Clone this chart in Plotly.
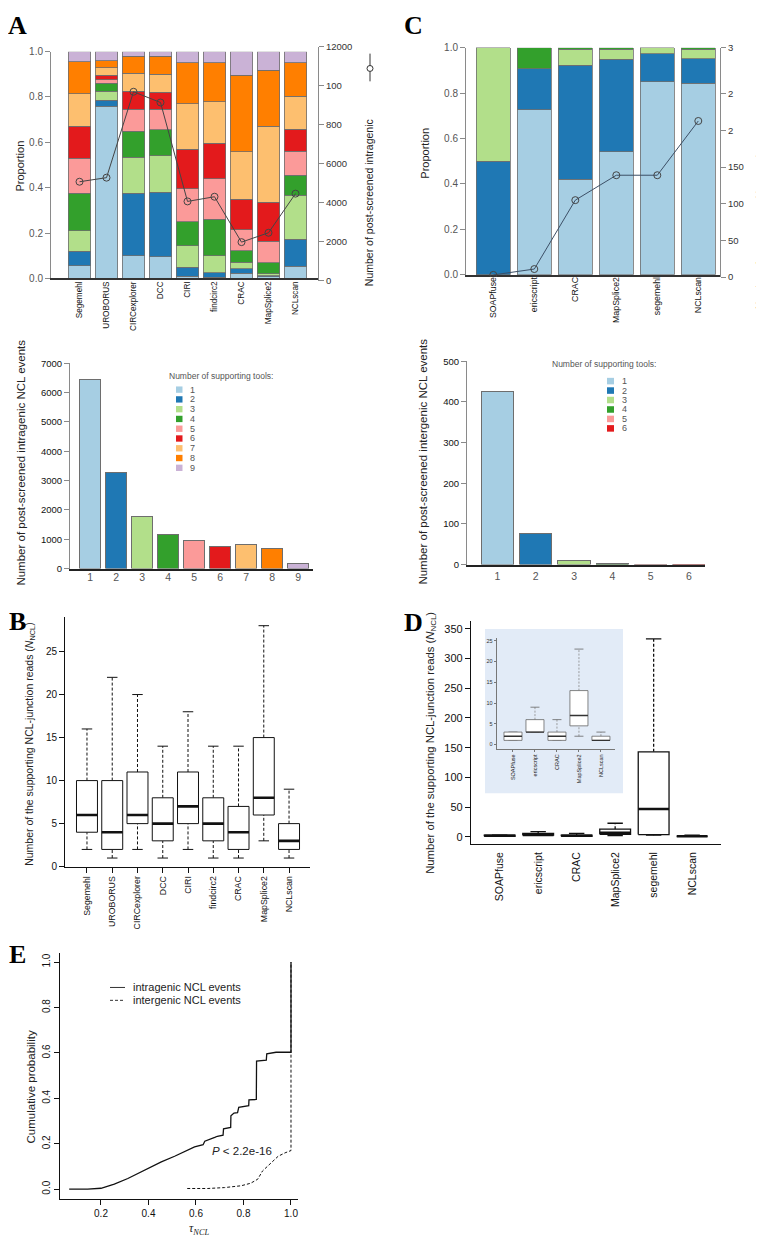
import plotly.graph_objects as go

W, H = 764, 1237
FONT = "Liberation Sans, Arial, sans-serif"
SERIF = "Liberation Serif, Times New Roman, serif"
PAIRED = ['#a6cee3', '#1f78b4', '#b2df8a', '#33a02c', '#fb9a99',
          '#e31a1c', '#fdbf6f', '#ff7f00', '#cab2d6']


def PX(p):
    return p / W


def PY(p):
    return 1 - p / H


def xdom(a, b):
    return [PX(a), PX(b)]


def ydom(top, bottom):
    return [PY(bottom), PY(top)]


# ------------------------------------------------------------------ data
# Panel A (top): proportion of events by number of supporting tools (1..9)
tools_A = ["Segemehl", "UROBORUS", "CIRCexplorer", "DCC", "CIRI",
           "findcirc2", "CRAC", "MapSplice2", "NCLscan"]
levels_A = ["1", "2", "3", "4", "5", "6", "7", "8", "9"]
prop_segemehl = [0.055, 0.065, 0.09, 0.165, 0.155, 0.14, 0.145, 0.14, 0.045]
prop_uroborus = [0.76, 0.025, 0.04, 0.035, 0.015, 0.02, 0.035, 0.03, 0.04]
prop_circexplorer = [0.10, 0.275, 0.16, 0.115, 0.095, 0.08, 0.08, 0.075, 0.02]
prop_dcc = [0.095, 0.285, 0.16, 0.115, 0.09, 0.075, 0.08, 0.08, 0.02]
prop_ciri = [0.01, 0.04, 0.095, 0.105, 0.145, 0.175, 0.20, 0.18, 0.05]
prop_findcirc2 = [0.005, 0.02, 0.075, 0.16, 0.18, 0.155, 0.185, 0.17, 0.05]
prop_crac = [0.022, 0.02, 0.03, 0.05, 0.092, 0.135, 0.21, 0.336, 0.105]
prop_mapsplice2 = [0.007, 0.005, 0.008, 0.048, 0.095, 0.172, 0.337, 0.245, 0.083]
prop_nclscan = [0.054, 0.119, 0.194, 0.087, 0.106, 0.098, 0.145, 0.149, 0.048]
props_A = [prop_segemehl, prop_uroborus, prop_circexplorer, prop_dcc, prop_ciri,
           prop_findcirc2, prop_crac, prop_mapsplice2, prop_nclscan]
count_intragenic = [5080, 5290, 9700, 9150, 4070, 4310, 1980, 2460, 4470]
right_ticks_A = [0, 2000, 4000, 6000, 8000, 10000, 12000]
right_labels_A = ["0", "2000", "4000", "6000", "800", "100", "12000"]

# Panel C (top)
tools_C = ["SOAPfuse", "ericscript", "CRAC", "MapSplice2", "segemehl", "NCLscan"]
levels_C = ["1", "2", "3", "4"]
propC_soapfuse = [0.0, 0.5, 0.5, 0.0]
propC_ericscript = [0.727, 0.18, 0.0, 0.093]
propC_crac = [0.42, 0.503, 0.07, 0.007]
propC_mapsplice2 = [0.541, 0.408, 0.044, 0.007]
propC_segemehl = [0.85, 0.124, 0.026, 0.0]
propC_nclscan = [0.843, 0.109, 0.041, 0.007]
props_C = [propC_soapfuse, propC_ericscript, propC_crac, propC_mapsplice2,
           propC_segemehl, propC_nclscan]
count_intergenic = [3, 11, 105, 139, 139, 213]
right_ticks_C = [0, 50, 100, 150, 200, 250, 313]
right_labels_C = ["0", "50", "100", "150", "2", "2", "3"]

# Panel A (bottom) and C (bottom)
support_A = ["1", "2", "3", "4", "5", "6", "7", "8", "9"]
events_intragenic = [6430, 3270, 1780, 1170, 940, 750, 810, 700, 170]
support_C = ["1", "2", "3", "4", "5", "6"]
events_intergenic = [425, 77, 10, 2, 0.5, 0.5]

# Panel B boxplots (whisker low, Q1, median, Q3, whisker high)
b_low = [2, 1, 2, 1, 2, 1, 1, 3, 1]
b_q1 = [4, 2, 5, 3, 5, 3, 2, 6, 2]
b_med = [6, 4, 6, 5, 7, 5, 4, 8, 3]
b_q3 = [10, 10, 11, 8, 11, 8, 7, 15, 5]
b_high = [16, 22, 20, 14, 18, 14, 14, 28, 9]

# Panel D boxplots
d_low = [1, 3, 1, 2, 3, 1]
d_q1 = [1, 3, 1, 4.5, 4, 1]
d_med = [2, 3, 2, 7, 47, 1]
d_q3 = [3, 6, 3, 13, 143, 2]
d_high = [3, 9, 6, 23, 333, 3]
# inset (without segemehl)
tools_inset = ["SOAPfuse", "ericscript", "CRAC", "MapSplice2", "NCLscan"]
i_low = [1, 3, 1, 2, 1]
i_q1 = [1, 3, 1, 4.5, 1]
i_med = [2, 3, 2, 7, 1]
i_q3 = [3, 6, 3, 13, 2]
i_high = [3, 9, 6, 23, 3]

# Panel E cumulative distributions
tau_intra = [0.066, 0.144, 0.2, 0.256, 0.313, 0.369, 0.397, 0.454, 0.51, 0.552,
             0.594, 0.63, 0.637, 0.679, 0.69, 0.714, 0.716, 0.746, 0.747, 0.76,
             0.775, 0.78, 0.822, 0.823, 0.854, 0.855, 0.896, 0.898, 0.937, 1.0, 1.0]
cdf_intra = [0.0, 0.0, 0.004, 0.022, 0.047, 0.076, 0.09, 0.12, 0.145, 0.167,
             0.186, 0.196, 0.211, 0.228, 0.233, 0.238, 0.266, 0.272, 0.323, 0.335,
             0.337, 0.36, 0.368, 0.393, 0.395, 0.564, 0.568, 0.596, 0.603, 0.603, 1.0]
tau_inter = [0.563, 0.65, 0.72, 0.79, 0.83, 0.86, 0.88, 0.918, 0.946, 0.975, 1.0, 1.0]
cdf_inter = [0.003, 0.003, 0.007, 0.015, 0.026, 0.044, 0.08, 0.116, 0.145, 0.16, 0.17, 1.0]

# ------------------------------------------------------------------ figure
fig = go.Figure()
layout = {}
annotations = []
shapes = []


def ax(dom, rng, **kw):
    d = dict(domain=dom, range=rng, showgrid=False, zeroline=False,
             fixedrange=True, ticks="", showline=False)
    d.update(kw)
    return d


def txt(x, y, text, size=11, color="#222", angle=0, xanchor="center",
        yanchor="middle", family=FONT):
    annotations.append(dict(x=PX(x), y=PY(y), xref="paper", yref="paper",
                            text=text, showarrow=False, textangle=angle,
                            xanchor=xanchor, yanchor=yanchor,
                            font=dict(family=family, size=size, color=color)))


GRAY_AX = "#8a8a8a"
left_axis = dict(showline=True, linecolor=GRAY_AX, linewidth=1, ticks="outside",
                 ticklen=5, tickcolor=GRAY_AX, tickwidth=1)

# ---- Panel A top: stacked proportions + line
for j, lev in enumerate(levels_A):
    fig.add_trace(go.Bar(x=list(range(len(tools_A))), y=[p[j] for p in props_A],
                         width=0.83, marker=dict(color=PAIRED[j],
                         line=dict(color="#6e6e6e", width=0.8)),
                         xaxis="x", yaxis="y", showlegend=False, name=lev))
fig.add_trace(go.Scatter(x=list(range(len(tools_A))), y=count_intragenic,
                         mode="lines+markers", xaxis="x2", yaxis="y2",
                         line=dict(color="#444", width=1),
                         marker=dict(symbol="circle-open", size=7,
                                     color="#444", line=dict(width=1)),
                         showlegend=False))
layout["xaxis"] = ax(xdom(43, 310), [-1.056, 8.833], anchor="y",
                     tickmode="array", tickvals=list(range(9)), ticktext=tools_A,
                     tickangle=-90, tickfont=dict(family=FONT, size=8.2, color="#111"),
                     showline=True, linecolor="#333", linewidth=1.5, ticklabelstandoff=-2)
layout["yaxis"] = ax(ydom(38, 267), [0, 1], anchor="x", tickmode="array",
                     tickvals=[0, 0.2, 0.4, 0.6, 0.8, 1.0],
                     ticktext=["0.0", "0.2", "0.4", "0.6", "0.8", "1.0"],
                     tickfont=dict(family=FONT, size=10, color="#555"), **left_axis)
layout["xaxis2"] = ax(xdom(43, 310), [-1.056, 8.833], anchor="y2", visible=False)
layout["yaxis2"] = ax(ydom(33.3, 269.3), [0, 12000], anchor="free", position=PX(310),
                      side="right", tickmode="array", tickvals=right_ticks_A,
                      ticktext=right_labels_A,
                      tickfont=dict(family=FONT, size=9.5, color="#333"), **left_axis)
txt(12, 154, "Proportion", size=11, angle=-90)
txt(361, 191, "Number of post-screened intragenic", size=10.5, angle=-90)
shapes.append(dict(type="line", xref="paper", yref="paper", x0=PX(362), x1=PX(362),
                   y0=PY(40), y1=PY(68), line=dict(color="#333", width=1)))
shapes.append(dict(type="circle", xref="paper", yref="paper", x0=PX(359), x1=PX(365),
                   y0=PY(58), y1=PY(52), fillcolor="white", line=dict(color="#333", width=1)))

# ---- Panel C top
for j, lev in enumerate(levels_C):
    fig.add_trace(go.Bar(x=list(range(len(tools_C))), y=[p[j] for p in props_C],
                         width=0.83, marker=dict(color=PAIRED[j],
                         line=dict(color="#6e6e6e", width=0.8)),
                         xaxis="x3", yaxis="y3", showlegend=False, name=lev))
fig.add_trace(go.Scatter(x=list(range(len(tools_C))), y=count_intergenic,
                         mode="lines+markers", xaxis="x4", yaxis="y4",
                         line=dict(color="#3c4f66", width=1),
                         marker=dict(symbol="circle-open", size=7,
                                     color="#444", line=dict(width=1)),
                         showlegend=False))
layout["xaxis3"] = ax(xdom(458, 712), [-0.666, 5.529], anchor="y3",
                      tickmode="array", tickvals=list(range(6)), ticktext=tools_C,
                      tickangle=-90, tickfont=dict(family=FONT, size=8.8, color="#111"),
                      showline=True, linecolor="#333", linewidth=1.5, ticklabelstandoff=-3)
layout["yaxis3"] = ax(ydom(34, 263.3), [0, 1], anchor="x3", tickmode="array",
                      tickvals=[0, 0.2, 0.4, 0.6, 0.8, 1.0],
                      ticktext=["0.0", "0.2", "0.4", "0.6", "0.8", "1.0"],
                      tickfont=dict(family=FONT, size=10, color="#555"), **left_axis)
layout["xaxis4"] = ax(xdom(458, 712), [-0.666, 5.529], anchor="y4", visible=False)
layout["yaxis4"] = ax(ydom(34, 265.7), [0, 313], anchor="free", position=PX(712),
                      side="right", tickmode="array", tickvals=right_ticks_C,
                      ticktext=right_labels_C,
                      tickfont=dict(family=FONT, size=9.5, color="#333"), **left_axis)
txt(417, 140, "Proportion", size=11, angle=-90)
txt(753, 218, "Number of post-screened intergenic", size=10, angle=-90)
shapes.append(dict(type="line", xref="paper", yref="paper", x0=PX(755), x1=PX(755),
                   y0=PY(40), y1=PY(68), line=dict(color="#333", width=1)))
shapes.append(dict(type="circle", xref="paper", yref="paper", x0=PX(752), x1=PX(758),
                   y0=PY(53), y1=PY(47), fillcolor="white", line=dict(color="#333", width=1)))

# ---- Panel A bottom
fig.add_trace(go.Bar(x=list(range(len(support_A))), y=events_intragenic, width=0.81,
                     marker=dict(color=PAIRED[:9], line=dict(color="#6e6e6e", width=1)),
                     xaxis="x5", yaxis="y5", showlegend=False))
layout["xaxis5"] = ax(xdom(62, 305), [-0.777, 8.57], anchor="y5", tickmode="array",
                      tickvals=list(range(9)), ticktext=support_A,
                      tickfont=dict(family=FONT, size=10.5, color="#555"),
                      showline=True, linecolor="#222", linewidth=1.5, ticklabelstandoff=-2)
layout["yaxis5"] = ax(ydom(352.7, 560), [0, 7000], anchor="x5", tickmode="array",
                      tickvals=[0, 1000, 2000, 3000, 4000, 5000, 6000, 7000],
                      tickfont=dict(family=FONT, size=9.5, color="#111"), **left_axis)
txt(13, 453, "Number of post-screened intragenic NCL events", size=11.5, angle=-90)
txt(213, 366, "Number of supporting tools:", size=8.5, color="#555")
for i, lev in enumerate(support_A):
    yc = 379.3 + 9.87 * i
    shapes.append(dict(type="rect", xref="paper", yref="paper", x0=PX(168), x1=PX(174.5),
                       y0=PY(yc + 3.2), y1=PY(yc - 3.2), fillcolor=PAIRED[i],
                       line=dict(width=0)))
    txt(180, yc, lev, size=9, color="#555", xanchor="left")

# ---- Panel C bottom
fig.add_trace(go.Bar(x=list(range(len(support_C))), y=events_intergenic, width=0.84,
                     marker=dict(color=PAIRED[:6], line=dict(color="#6e6e6e", width=1)),
                     xaxis="x6", yaxis="y6", showlegend=False))
layout["xaxis6"] = ax(xdom(459, 697), [-0.796, 5.42], anchor="y6", tickmode="array",
                      tickvals=list(range(6)), ticktext=support_C,
                      tickfont=dict(family=FONT, size=10.5, color="#555"),
                      showline=True, linecolor="#222", linewidth=1.5, ticklabelstandoff=1)
layout["yaxis6"] = ax(ydom(350.7, 556), [0, 500], anchor="x6", tickmode="array",
                      tickvals=[0, 100, 200, 300, 400, 500],
                      tickfont=dict(family=FONT, size=9.5, color="#111"), **left_axis)
txt(415, 452, "Number of post-screened intergenic NCL events", size=11.5, angle=-90)
txt(595.5, 353, "Number of supporting tools:", size=8.5, color="#555")
for i, lev in enumerate(support_C):
    yc = 370.7 + 9.55 * i
    shapes.append(dict(type="rect", xref="paper", yref="paper", x0=PX(599), x1=PX(606),
                       y0=PY(yc + 3.3), y1=PY(yc - 3.3), fillcolor=PAIRED[i],
                       line=dict(width=0)))
    txt(612, yc, lev, size=9, color="#555", xanchor="left")


# ---- boxplot helper
def add_boxes(low, q1, med, q3, high, width, xa, ya, lw=1.0, mlw=2.5, color="#111",
              mcolor="#111", wcolor="#111", dash="3px,2px", cap=0.25):
    xw, yw, xc, yc, xb, yb, xm, ym = [], [], [], [], [], [], [], []
    h = width / 2
    c = width * cap
    for i in range(len(med)):
        xw += [i, i, None, i, i, None]
        yw += [q3[i], high[i], None, low[i], q1[i], None]
        xc += [i - c, i + c, None, i - c, i + c, None]
        yc += [high[i], high[i], None, low[i], low[i], None]
        xb += [i - h, i + h, i + h, i - h, i - h, None]
        yb += [q1[i], q1[i], q3[i], q3[i], q1[i], None]
        xm += [i - h, i + h, None]
        ym += [med[i], med[i], None]
    common = dict(xaxis=xa, yaxis=ya, showlegend=False, mode="lines", hoverinfo="skip")
    fig.add_trace(go.Scatter(x=xw, y=yw, line=dict(color=wcolor, width=lw, dash=dash), **common))
    fig.add_trace(go.Scatter(x=xc, y=yc, line=dict(color=color, width=lw), **common))
    fig.add_trace(go.Scatter(x=xb, y=yb, fill="toself", fillcolor="white",
                             line=dict(color=color, width=lw), **common))
    fig.add_trace(go.Scatter(x=xm, y=ym, line=dict(color=mcolor, width=mlw), **common))


# ---- Panel B
add_boxes(b_low, b_q1, b_med, b_q3, b_high, 0.83, "x7", "y7", lw=1.0, mlw=2.6)
black_axis = dict(showline=True, linecolor="#111", linewidth=1, ticks="outside",
                  ticklen=5, tickcolor="#111", tickwidth=1)
layout["xaxis7"] = ax(xdom(57, 302), [-0.87, 8.83], anchor="y7", tickmode="array",
                      tickvals=list(range(9)), ticktext=tools_A, tickangle=-90,
                      tickfont=dict(family=FONT, size=8.8, color="#111"), **black_axis)
layout["yaxis7"] = ax(ydom(609, 861), [0, 29], anchor="x7", tickmode="array",
                      tickvals=[0, 5, 10, 15, 20, 25],
                      tickfont=dict(family=FONT, size=10, color="#111"), **black_axis)
txt(22, 737, "Number of the supporting NCL-junction reads (<i>N</i><sub>NCL</sub>)",
    size=10.5, angle=-90)

# ---- Panel D
shapes.append(dict(type="rect", xref="paper", yref="paper", x0=PX(477), x1=PX(615),
                   y0=PY(787), y1=PY(621), fillcolor="#e2ebf7", line=dict(width=0),
                   layer="below"))
add_boxes(d_low, d_q1, d_med, d_q3, d_high, 0.8, "x8", "y8", lw=1.3, mlw=2.4)
layout["xaxis8"] = ax(xdom(463, 713), [-0.745, 5.75], anchor="y8", tickmode="array",
                      tickvals=list(range(6)), ticktext=tools_C,
                      tickangle=-90, tickfont=dict(family=FONT, size=10.5, color="#111"),
                      showline=True, linecolor="#111", linewidth=1.2, ticklabelstandoff=3)
layout["yaxis8"] = ax(ydom(613, 838), [-11.7, 363], anchor="x8", tickmode="array",
                      tickvals=[0, 50, 100, 150, 200, 250, 300, 350],
                      tickfont=dict(family=FONT, size=11, color="#111"),
                      showline=True, linecolor="#111", linewidth=1.2, ticks="outside",
                      ticklen=5, tickcolor="#111")
txt(423, 736, "Number of the supporting NCL-junction reads (<i>N</i><sub>NCL</sub>)",
    size=11.3, angle=-90)

# inset
add_boxes(i_low, i_q1, i_med, i_q3, i_high, 0.82, "x9", "y9", lw=0.8, mlw=1.4,
          color="#666", mcolor="#333", wcolor="#888", dash="2px,1.5px")
inset_axis = dict(showline=True, linecolor="#777", linewidth=0.8, ticks="outside",
                  ticklen=2.5, tickcolor="#777", tickwidth=0.8)
layout["xaxis9"] = ax(xdom(489, 607), [-0.727, 4.64], anchor="y9", tickmode="array",
                      tickvals=list(range(5)), ticktext=tools_inset, tickangle=-90,
                      tickfont=dict(family=FONT, size=5.5, color="#222"), **inset_axis)
layout["yaxis9"] = ax(ydom(630, 742), [-1.03, 25.7], anchor="x9", tickmode="array",
                      tickvals=[0, 5, 10, 15, 20, 25],
                      tickfont=dict(family=FONT, size=5.5, color="#333"), **inset_axis)

# ---- Panel E
fig.add_trace(go.Scatter(x=tau_inter, y=cdf_inter, mode="lines", xaxis="x10", yaxis="y10",
                         line=dict(color="#111", width=1, dash="3px,2px"),
                         showlegend=False))
fig.add_trace(go.Scatter(x=tau_intra, y=cdf_intra, mode="lines", xaxis="x10", yaxis="y10",
                         line=dict(color="#111", width=1.3), showlegend=False))
layout["xaxis10"] = ax(xdom(52, 290), [0.0274, 1.0295], anchor="y10", tickmode="array",
                       tickvals=[0.2, 0.4, 0.6, 0.8, 1.0],
                       ticktext=["0.2", "0.4", "0.6", "0.8", "1.0"],
                       tickfont=dict(family=FONT, size=10, color="#111"), **black_axis)
layout["yaxis10"] = ax(ydom(948, 1197), [-0.045, 1.041], anchor="x10", tickmode="array",
                       tickvals=[0, 0.2, 0.4, 0.6, 0.8, 1.0],
                       ticktext=["0.0", "0.2", "0.4", "0.6", "0.8", "1.0"], tickangle=-90,
                       tickfont=dict(family=FONT, size=10, color="#111"), **black_axis)
txt(23, 1084, "Cumulative probability", size=11.5, angle=-90)
txt(191, 1227, "<i>τ</i><sub><i>NCL</i></sub>", size=12, family=SERIF)
txt(234, 1148, "<i>P</i> < 2.2e-16", size=11.5)
shapes.append(dict(type="line", xref="paper", yref="paper", x0=PX(102), x1=PX(117),
                   y0=PY(983), y1=PY(983), line=dict(color="#333", width=1)))
shapes.append(dict(type="line", xref="paper", yref="paper", x0=PX(102), x1=PX(117),
                   y0=PY(996), y1=PY(996), line=dict(color="#333", width=1, dash="3px,2px")))
txt(123, 983, "intragenic NCL events", size=11, xanchor="left")
txt(123, 996, "intergenic NCL events", size=11, xanchor="left")

# ---- panel letters
for letter, (lx, ly) in {"A": (9, 12), "C": (405, 12), "B": (9, 613),
                         "D": (405, 614), "E": (9, 950)}.items():
    annotations.append(dict(x=PX(lx), y=PY(ly), xref="paper", yref="paper", text=f"<b>{letter}</b>",
                            showarrow=False, xanchor="center", yanchor="middle",
                            font=dict(family=SERIF, size=26, color="#000")))

layout.update(dict(width=W, height=H, margin=dict(l=0, r=0, t=0, b=0),
                   paper_bgcolor="white", plot_bgcolor="rgba(0,0,0,0)",
                   barmode="stack", showlegend=False, annotations=annotations,
                   shapes=shapes, font=dict(family=FONT)))
fig.update_layout(**layout)
fig.write_html("out.html")
